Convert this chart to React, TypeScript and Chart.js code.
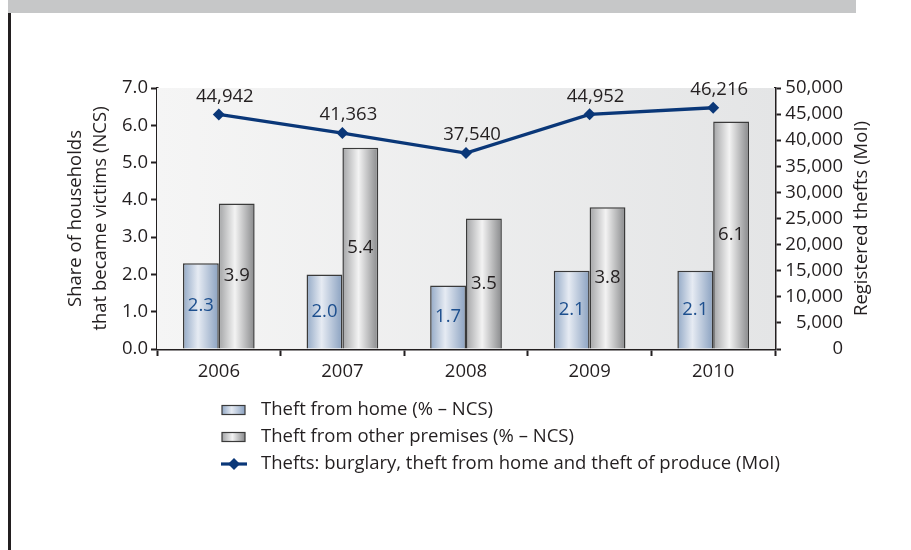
import React, { useEffect, useRef } from "react";
import { Chart, registerables } from "chart.js";

Chart.register(...registerables);

const years = ["2006", "2007", "2008", "2009", "2010"];
const theftFromHome = [2.3, 2.0, 1.7, 2.1, 2.1];
const theftOtherPremises = [3.9, 5.4, 3.5, 3.8, 6.1];
const registeredThefts = [44942, 41363, 37540, 44952, 46216];

const seriesLabels = [
  "Theft from home (% \u2013 NCS)",
  "Theft from other premises (% \u2013 NCS)",
  "Thefts: burglary, theft from home and theft of produce (MoI)",
];
const leftAxisTitle = ["Share of households", "that became victims (NCS)"];
const rightAxisTitle = "Registered thefts (MoI)";

const FONT = "'Open Sans', sans-serif";
const FS = 18.5;
const TEXT = "#231f20";
const NAVY = "#0a3778";
const BLUE_LABEL = "#1d4f8e";

function blueGrad(ctx: CanvasRenderingContext2D, x0: number, x1: number) {
  const g = ctx.createLinearGradient(x0, 0, x1, 0);
  g.addColorStop(0, "#93a9c6");
  g.addColorStop(0.42, "#e6ebf3");
  g.addColorStop(1, "#8aa1c0");
  return g;
}
function grayGrad(ctx: CanvasRenderingContext2D, x0: number, x1: number) {
  const g = ctx.createLinearGradient(x0, 0, x1, 0);
  g.addColorStop(0, "#a3a4a6");
  g.addColorStop(0.45, "#f3f3f3");
  g.addColorStop(1, "#88898b");
  return g;
}

const bgPlugin = {
  id: "bgPlugin",
  beforeDatasetsDraw(chart: any) {
    const { ctx, chartArea: a } = chart;
    ctx.save();
    const g = ctx.createLinearGradient(a.left, 0, a.right, 0);
    g.addColorStop(0, "#f5f5f5");
    g.addColorStop(1, "#e4e5e6");
    ctx.fillStyle = g;
    ctx.fillRect(a.left, a.top, a.right - a.left, a.bottom - a.top);
    ctx.restore();
    [0, 1].forEach((di) => {
      const meta = chart.getDatasetMeta(di);
      meta.data.forEach((el: any) => {
        const x0 = el.x - el.width / 2;
        const x1 = el.x + el.width / 2;
        const grad = di === 0 ? blueGrad(ctx, x0, x1) : grayGrad(ctx, x0, x1);
        el.options = Object.assign({}, el.options, { backgroundColor: grad });
      });
    });
  },
};

const labelPlugin = {
  id: "labelPlugin",
  afterDatasetsDraw(chart: any) {
    const { ctx } = chart;
    ctx.save();
    ctx.font = `${FS}px ${FONT}`;
    ctx.textAlign = "center";
    ctx.textBaseline = "middle";
    const m0 = chart.getDatasetMeta(0);
    m0.data.forEach((el: any, i: number) => {
      ctx.fillStyle = BLUE_LABEL;
      ctx.fillText(theftFromHome[i].toFixed(1), el.x, (el.y + el.base) / 2);
    });
    const m1 = chart.getDatasetMeta(1);
    m1.data.forEach((el: any, i: number) => {
      ctx.fillStyle = TEXT;
      ctx.fillText(theftOtherPremises[i].toFixed(1), el.x, (el.y + el.base) / 2);
    });
    const m2 = chart.getDatasetMeta(2);
    m2.data.forEach((el: any, i: number) => {
      ctx.fillStyle = TEXT;
      ctx.fillText(registeredThefts[i].toLocaleString("en-US"), el.x + 6, el.y - 18);
    });
    const y1 = chart.scales.y1;
    ctx.translate(862, (y1.top + y1.bottom) / 2);
    ctx.rotate(-Math.PI / 2);
    ctx.fillStyle = TEXT;
    ctx.fillText(rightAxisTitle, 0, 0);
    ctx.restore();
  },
};

const legendPlugin = {
  id: "legendPlugin",
  afterDraw(chart: any) {
    const { ctx } = chart;
    ctx.save();
    ctx.font = `${FS}px ${FONT}`;
    ctx.textAlign = "left";
    ctx.textBaseline = "middle";
    const mx = 222;
    const tx = 261;
    const ys = [410, 437, 464];
    [0, 1].forEach((i) => {
      const y = ys[i];
      const x0 = mx, x1 = mx + 23;
      ctx.fillStyle = i === 0 ? blueGrad(ctx, x0, x1) : grayGrad(ctx, x0, x1);
      ctx.fillRect(x0, y - 4.5, 23, 9);
      ctx.strokeStyle = "#3a3a3a";
      ctx.lineWidth = 1.2;
      ctx.strokeRect(x0, y - 4.5, 23, 9);
    });
    const y = ys[2];
    ctx.strokeStyle = NAVY;
    ctx.lineWidth = 3.2;
    ctx.beginPath();
    ctx.moveTo(mx - 1, y);
    ctx.lineTo(mx + 25, y);
    ctx.stroke();
    ctx.fillStyle = NAVY;
    ctx.beginPath();
    const cx = mx + 12;
    ctx.moveTo(cx, y - 6);
    ctx.lineTo(cx + 6, y);
    ctx.lineTo(cx, y + 6);
    ctx.lineTo(cx - 6, y);
    ctx.closePath();
    ctx.fill();
    ctx.fillStyle = TEXT;
    seriesLabels.forEach((t, i) => ctx.fillText(t, tx, ys[i]));
    ctx.restore();
  },
};

export default function App() {
  const ref = useRef<HTMLCanvasElement | null>(null);
  useEffect(() => {
    if (!ref.current) return;
    const tickFont = { family: FONT, size: FS };
    const chart = new Chart(ref.current, {
      type: "bar",
      data: {
        labels: years,
        datasets: [
          {
            label: seriesLabels[0],
            data: theftFromHome,
            backgroundColor: "#c0cde0",
            borderColor: "#3a3a3a",
            borderWidth: 1.5,
            yAxisID: "y",
            order: 1,
            categoryPercentage: 0.58,
            barPercentage: 1,
          } as any,
          {
            label: seriesLabels[1],
            data: theftOtherPremises,
            backgroundColor: "#d0d0d0",
            borderColor: "#3a3a3a",
            borderWidth: 1.5,
            yAxisID: "y",
            order: 1,
            categoryPercentage: 0.58,
            barPercentage: 1,
          } as any,
          {
            type: "line",
            label: seriesLabels[2],
            data: registeredThefts,
            borderColor: NAVY,
            backgroundColor: NAVY,
            borderWidth: 3.3,
            pointStyle: "rectRot",
            pointRadius: 6,
            pointBorderWidth: 0,
            yAxisID: "y1",
            order: 0,
            tension: 0,
          } as any,
        ],
      },
      options: {
        responsive: false,
        animation: false,
        layout: { padding: { top: 88, bottom: 161, left: 0, right: 911 - 843 } },
        plugins: {
          legend: { display: false },
          tooltip: { enabled: false },
        },
        scales: {
          x: {
            offset: true,
            grid: {
              offset: true,
              drawOnChartArea: false,
              tickLength: 7,
              tickWidth: 2,
              tickColor: TEXT,
            },
            border: { color: TEXT, width: 2.5 },
            ticks: { font: tickFont, color: TEXT, padding: 5 },
            afterFit: (s: any) => {
              s.height = 40;
            },
          },
          y: {
            position: "left",
            min: 0,
            max: 7,
            ticks: {
              stepSize: 1,
              font: tickFont,
              color: TEXT,
              padding: 3,
              callback: (v: any) => Number(v).toFixed(1),
            },
            grid: {
              drawOnChartArea: false,
              tickLength: 6,
              tickWidth: 2,
              tickColor: TEXT,
            },
            border: { color: TEXT, width: 2.5 },
            title: {
              display: true,
              text: leftAxisTitle,
              font: { family: FONT, size: FS, lineHeight: 1.35 },
              color: TEXT,
              padding: { top: 63, bottom: 0 },
            },
            afterFit: (s: any) => {
              s.width = 157;
            },
          },
          y1: {
            position: "right",
            min: 0,
            max: 50000,
            ticks: {
              stepSize: 5000,
              font: tickFont,
              color: TEXT,
              padding: 6,
              crossAlign: "far",
              callback: (v: any) => Number(v).toLocaleString("en-US"),
            },
            grid: {
              drawOnChartArea: false,
              tickLength: 6,
              tickWidth: 2,
              tickColor: TEXT,
            },
            border: { color: TEXT, width: 2.5 },
            afterFit: (s: any) => {
              s.width = 843 - 775;
            },
          },
        },
      } as any,
      plugins: [bgPlugin, labelPlugin, legendPlugin],
    });
    return () => chart.destroy();
  }, []);

  return (
    <div style={{ position: "fixed", left: 0, top: 0, width: 911, height: 550, background: "#fff" }}>
      <div style={{ position: "absolute", left: 8, top: 0, width: 848, height: 13, background: "#c6c7c8" }} />
      <div style={{ position: "absolute", left: 8, top: 13, width: 3, height: 537, background: "#231f20" }} />
      <canvas ref={ref} width={911} height={550} style={{ position: "absolute", left: 0, top: 0, width: 911, height: 550 }} />
    </div>
  );
}
